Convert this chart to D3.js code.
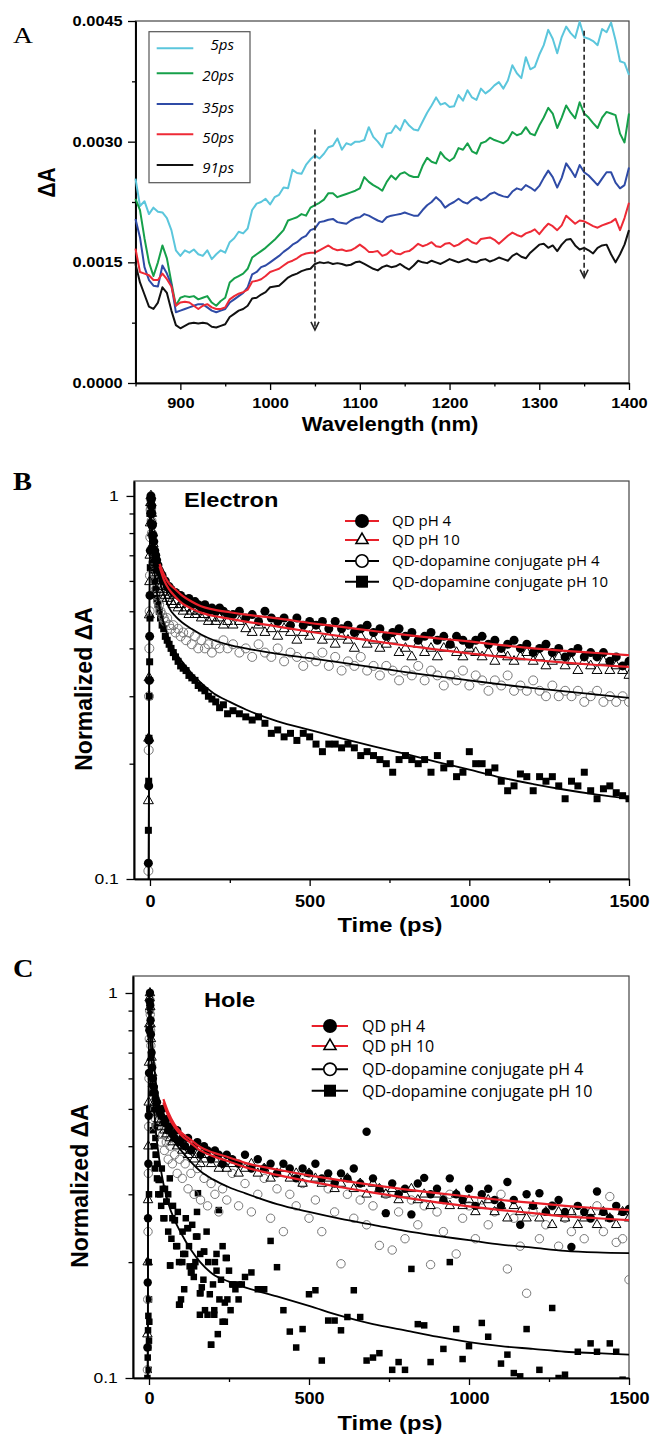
<!DOCTYPE html>
<html><head><meta charset="utf-8">
<script src="https://cdn.jsdelivr.net/npm/d3@7/dist/d3.min.js"></script>
<style>
html,body{margin:0;padding:0;background:#fff;}
svg{display:block;}
</style></head>
<body>
<svg id="fig" width="654" height="1436"></svg>
<script>
// ================= DATA =================
// ---- Panel A : transient absorption spectra (ΔA in units of 1e-4) ----
const wavelengthNm = [
 850,855,860,865,870,875,880,885,890,895,
 900,905,910,915,920,925,930,935,940,945,
 950,955,960,965,970,975,980,985,990,995,
 1000,1005,1010,1015,1020,1025,1030,1035,1040,1045,
 1050,1055,1060,1065,1070,1075,1080,1085,1090,1095,
 1100,1105,1110,1115,1120,1125,1130,1135,1140,1145,
 1150,1155,1160,1165,1170,1175,1180,1185,1190,1195,
 1200,1205,1210,1215,1220,1225,1230,1235,1240,1245,
 1250,1255,1260,1265,1270,1275,1280,1285,1290,1295,
 1300,1305,1310,1315,1320,1325,1330,1335,1340,1345,
 1350,1355,1360,1365,1370,1375,1380,1385,1390,1395,
 1400];
const delayLabels = ["5ps","20ps","35ps","50ps","91ps"];
const dA_5ps = [
 25.4,22.0,22.6,21.0,21.8,21.3,21.2,20.5,19.0,16.5,
 15.8,16.5,16.2,16.6,16.0,15.8,16.5,15.4,16.0,16.5,
 16.2,17.5,18.0,18.8,18.6,19.2,21.5,22.3,22.5,22.9,
 22.2,23.1,23.4,24.3,24.2,26.5,26.1,26.0,27.1,27.8,
 28.3,27.9,28.5,29.3,29.5,30.4,29.0,29.8,29.6,30.0,
 30.0,30.2,31.8,30.6,30.0,29.3,31.0,31.1,32.0,31.4,
 32.7,32.0,31.5,31.4,32.5,33.6,34.5,35.5,34.6,34.8,
 34.3,34.4,35.8,35.1,36.4,35.5,35.2,36.6,36.0,36.4,
 37.0,37.4,36.6,37.6,39.5,38.5,37.9,40.5,39.0,39.3,
 40.8,42.0,43.9,42.8,41.0,43.0,44.3,43.5,42.9,44.9,
 43.0,42.8,42.5,42.0,44.0,43.6,44.8,42.6,40.0,39.8,
 38.3];
const dA_20ps = [
 22.9,21.5,18.0,15.0,13.3,15.0,17.1,15.5,12.5,9.6,
 10.6,10.8,10.7,10.8,10.4,10.6,10.8,10.0,9.6,10.2,
 10.6,12.5,13.0,13.3,13.6,14.2,15.6,16.0,16.4,16.8,
 17.3,17.8,18.4,19.0,20.2,20.4,20.6,21.0,20.8,21.8,
 22.1,22.4,22.8,23.6,23.6,23.1,23.3,23.5,23.7,23.9,
 24.2,25.6,25.0,24.6,24.3,23.9,25.0,25.8,25.3,26.0,
 26.2,25.8,25.6,25.6,27.0,28.0,27.5,27.3,28.7,28.0,
 27.6,28.0,29.2,29.0,29.8,28.8,28.5,29.8,30.0,30.5,
 30.2,30.0,29.8,30.2,31.2,30.8,31.0,31.8,31.0,30.8,
 32.0,33.0,34.2,33.5,31.7,33.0,34.5,33.6,32.9,34.9,
 33.5,33.0,32.3,31.7,33.0,33.7,33.5,33.3,31.0,29.9,
 33.5];
const dA_35ps = [
 20.4,18.1,14.4,12.8,12.1,12.0,14.6,13.6,12.2,8.8,
 9.0,9.2,9.4,9.6,9.8,9.8,9.4,9.0,8.8,9.0,
 9.2,10.0,10.4,10.8,11.2,11.9,13.5,13.8,14.4,14.6,
 15.0,15.4,15.8,16.3,16.7,17.2,17.5,18.0,18.3,19.0,
 19.2,20.0,20.1,20.3,20.4,20.0,19.9,19.8,20.2,20.5,
 20.6,21.0,20.8,20.5,20.2,20.0,20.6,20.8,20.9,21.0,
 21.2,21.0,20.8,20.8,21.5,22.1,22.5,23.1,22.6,21.8,
 22.2,22.5,22.9,22.5,22.3,22.8,23.1,22.7,23.0,23.5,
 23.7,23.4,23.2,23.1,23.8,24.2,24.0,24.6,24.3,23.9,
 24.5,25.5,26.4,25.6,24.3,25.5,27.3,26.5,25.6,27.1,
 26.2,25.8,25.2,24.6,25.4,26.2,26.2,24.9,24.2,24.6,
 26.8];
const dA_50ps = [
 16.7,13.8,13.6,13.4,12.8,12.8,13.6,12.9,12.0,9.6,
 10.0,10.1,10.0,9.6,9.2,9.6,9.8,9.4,9.2,9.2,
 9.4,10.4,10.8,11.1,11.3,11.6,12.6,12.7,12.9,13.3,
 13.8,14.0,14.2,14.6,15.0,15.2,15.5,15.9,16.1,16.2,
 16.2,16.5,16.8,17.1,16.7,16.5,16.6,16.4,16.5,16.8,
 17.2,16.8,16.3,16.3,16.4,15.8,16.0,16.5,16.1,16.0,
 16.3,16.4,16.8,17.3,17.0,17.2,17.5,17.0,16.9,17.3,
 17.4,17.0,17.2,17.6,17.9,17.5,17.3,17.9,18.0,18.1,
 17.8,17.3,17.8,18.3,18.7,18.4,18.2,18.6,18.8,19.1,
 18.5,19.2,19.8,19.5,19.0,19.6,20.8,20.3,19.8,20.2,
 20.1,19.8,19.5,19.3,19.6,19.8,20.0,20.4,19.0,20.5,
 22.4];
const dA_91ps = [
 14.8,12.5,11.0,9.5,9.2,10.0,11.9,11.2,9.0,7.2,
 6.8,7.1,7.4,7.5,7.4,7.5,7.4,7.0,6.9,7.1,
 7.3,8.2,8.6,9.0,9.2,9.6,10.5,10.6,11.0,11.3,
 11.9,12.0,12.1,12.6,13.1,13.4,13.6,13.9,14.1,14.2,
 14.8,15.0,14.9,15.0,14.8,14.9,14.8,14.6,14.7,15.0,
 15.1,14.8,14.5,14.2,14.0,14.4,14.6,14.4,14.5,14.8,
 14.4,14.1,14.6,15.2,15.0,14.9,15.2,15.0,14.8,15.1,
 15.4,15.2,15.0,15.2,15.4,15.1,15.0,15.3,15.4,15.1,
 15.3,15.6,15.4,15.2,15.8,16.1,15.7,15.5,16.2,16.7,
 17.2,17.3,16.8,17.1,16.4,17.2,17.8,17.9,17.1,16.6,
 16.8,16.5,16.1,16.8,17.1,17.2,16.0,15.0,16.0,17.2,
 19.0];
const seriesA = [dA_5ps, dA_20ps, dA_35ps, dA_50ps, dA_91ps];
const xTicksA = [900,1000,1100,1200,1300,1400];
const xMinorA = [850,950,1050,1150,1250,1350];
const yTicksA = [0,0.0015,0.0030,0.0045];
const yMinorA = [0.00075,0.00225,0.00375];
// dashed arrows: [wavelength, ΔA start(1e-4), ΔA end(1e-4)]
const arrowsA = [[1050,31.5,6.6],[1350,43.8,13.1]];

// ---- Panels B & C : normalized kinetics ----
const seriesLabels = ["QD pH 4","QD pH 10","QD-dopamine conjugate pH 4","QD-dopamine conjugate pH 10"];
const timePs = [
 -5,-4,-3,-2,-1,0,1,2,3,4,
 5,6,8,10,12,15,18,21,25,29,
 33,38,43,48,54,60,66,73,80,88,
 96,104,113,122,131,141,151,161,172,183,
 194,206,218,230,243,260,280,300,320,340,
 360,380,400,420,440,460,480,500,520,540,
 560,580,600,620,640,660,680,700,720,740,
 760,780,800,820,840,860,880,900,920,940,
 960,980,1000,1020,1040,1060,1080,1100,1120,1140,
 1160,1180,1200,1220,1240,1260,1280,1300,1320,1340,
 1360,1380,1400,1420,1440,1460,1480,1500];
// Electron (B)
const elecQD4 = [
 0.11,0.175,0.23,0.33,0.43,0.55,0.72,0.9,1.0,0.98,
 0.94,0.9,0.84,0.79,0.76,0.72,0.7,0.68,0.66,0.64,
 0.63,0.62,0.6,0.6,0.58,0.58,0.57,0.56,0.56,0.55,
 0.55,0.54,0.53,0.54,0.52,0.53,0.52,0.51,0.52,0.5,
 0.51,0.5,0.51,0.5,0.49,0.49,0.5,0.48,0.49,0.47,
 0.5,0.48,0.47,0.48,0.46,0.48,0.46,0.47,0.46,0.47,
 0.45,0.47,0.45,0.46,0.44,0.45,0.46,0.44,0.45,0.43,
 0.44,0.45,0.43,0.44,0.42,0.43,0.44,0.42,0.43,0.41,
 0.43,0.42,0.41,0.42,0.43,0.41,0.42,0.4,0.41,0.42,
 0.4,0.41,0.39,0.4,0.41,0.39,0.4,0.38,0.39,0.4,
 0.38,0.39,0.38,0.39,0.37,0.38,0.36,0.37];
const elecQD10 = [
 0.16,0.233,0.335,0.489,0.597,0.7,0.85,0.96,1.0,0.96,
 0.9,0.86,0.8,0.75,0.71,0.68,0.65,0.63,0.61,0.6,
 0.58,0.57,0.56,0.55,0.54,0.55,0.53,0.52,0.53,0.51,
 0.52,0.5,0.51,0.49,0.5,0.49,0.5,0.48,0.49,0.47,
 0.48,0.47,0.48,0.46,0.47,0.46,0.47,0.45,0.44,0.46,
 0.44,0.45,0.43,0.45,0.44,0.42,0.44,0.43,0.45,0.42,
 0.43,0.41,0.43,0.42,0.4,0.43,0.41,0.42,0.4,0.41,
 0.42,0.39,0.4,0.38,0.41,0.39,0.4,0.38,0.4,0.41,
 0.39,0.38,0.4,0.39,0.38,0.39,0.37,0.39,0.38,0.37,
 0.38,0.39,0.37,0.38,0.36,0.37,0.38,0.36,0.37,0.35,
 0.37,0.36,0.35,0.37,0.35,0.36,0.35,0.34];
const elecDopa4 = [
 0.105,0.217,0.3,0.4,0.5,0.62,0.78,0.92,0.98,0.93,
 0.86,0.8,0.73,0.67,0.63,0.6,0.57,0.55,0.53,0.52,
 0.5,0.49,0.48,0.47,0.48,0.46,0.45,0.46,0.44,0.45,
 0.43,0.44,0.42,0.44,0.41,0.43,0.4,0.42,0.4,0.41,
 0.39,0.41,0.4,0.42,0.4,0.41,0.39,0.4,0.38,0.41,
 0.39,0.38,0.4,0.37,0.39,0.38,0.36,0.38,0.37,0.39,
 0.36,0.38,0.35,0.37,0.36,0.38,0.35,0.36,0.34,0.36,
 0.35,0.33,0.35,0.34,0.36,0.33,0.35,0.34,0.32,0.34,
 0.33,0.35,0.32,0.34,0.33,0.31,0.33,0.32,0.34,0.31,
 0.32,0.31,0.33,0.31,0.3,0.32,0.3,0.31,0.3,0.31,
 0.29,0.3,0.31,0.29,0.3,0.29,0.3,0.29];
const elecDopa10 = [
 0.134,0.18,0.233,0.3,0.369,0.48,0.65,0.85,0.97,0.9,
 0.84,0.79,0.73,0.68,0.64,0.6,0.57,0.54,0.52,0.5,
 0.48,0.46,0.45,0.43,0.42,0.41,0.4,0.39,0.38,0.37,
 0.36,0.355,0.35,0.34,0.335,0.33,0.32,0.315,0.31,0.3,
 0.295,0.29,0.28,0.285,0.27,0.275,0.27,0.265,0.26,0.265,
 0.255,0.24,0.245,0.235,0.24,0.23,0.24,0.235,0.225,0.215,
 0.225,0.225,0.22,0.225,0.22,0.21,0.215,0.21,0.205,0.2,
 0.19,0.205,0.21,0.205,0.2,0.205,0.19,0.21,0.195,0.2,
 0.185,0.19,0.215,0.2,0.2,0.19,0.195,0.18,0.17,0.175,
 0.188,0.185,0.17,0.185,0.18,0.185,0.175,0.162,0.18,0.175,
 0.19,0.17,0.162,0.172,0.175,0.168,0.165,0.162];
// Hole (C)
const holeQD4 = [
 0.12,0.177,0.26,0.36,0.48,0.62,0.8,0.95,1.0,0.93,
 0.85,0.78,0.7,0.64,0.6,0.57,0.55,0.53,0.52,0.5,
 0.49,0.48,0.5,0.46,0.47,0.44,0.45,0.43,0.42,0.44,
 0.41,0.42,0.4,0.42,0.39,0.4,0.41,0.38,0.4,0.39,
 0.37,0.39,0.38,0.36,0.38,0.37,0.36,0.38,0.35,0.37,
 0.35,0.36,0.34,0.36,0.35,0.33,0.35,0.34,0.36,0.33,
 0.34,0.32,0.34,0.33,0.35,0.32,0.436,0.33,0.31,0.268,
 0.32,0.3,0.31,0.266,0.32,0.331,0.3,0.31,0.29,0.33,
 0.3,0.29,0.31,0.28,0.3,0.31,0.29,0.28,0.323,0.29,
 0.25,0.3,0.28,0.302,0.27,0.28,0.29,0.27,0.219,0.28,
 0.27,0.26,0.305,0.27,0.26,0.28,0.27,0.275];
const holeQD10 = [
 0.13,0.2,0.29,0.4,0.52,0.66,0.83,0.97,1.0,0.92,
 0.83,0.76,0.68,0.62,0.58,0.55,0.52,0.5,0.49,0.47,
 0.46,0.45,0.46,0.44,0.43,0.44,0.42,0.41,0.42,0.4,
 0.41,0.39,0.4,0.38,0.39,0.37,0.38,0.36,0.37,0.38,
 0.36,0.37,0.35,0.36,0.35,0.36,0.34,0.35,0.36,0.34,
 0.35,0.33,0.34,0.35,0.33,0.34,0.32,0.34,0.33,0.32,
 0.33,0.31,0.32,0.33,0.31,0.32,0.3,0.32,0.31,0.3,
 0.31,0.29,0.3,0.31,0.29,0.3,0.28,0.3,0.29,0.28,
 0.3,0.28,0.29,0.27,0.28,0.29,0.27,0.28,0.26,0.28,
 0.27,0.26,0.28,0.26,0.27,0.25,0.27,0.26,0.27,0.25,
 0.26,0.27,0.25,0.27,0.26,0.25,0.27,0.26];
const holeDopa4 = [
 0.105,0.16,0.24,0.34,0.45,0.6,0.76,0.9,0.96,0.88,
 0.8,0.73,0.65,0.6,0.55,0.52,0.5,0.47,0.45,0.46,
 0.43,0.41,0.43,0.39,0.41,0.37,0.4,0.36,0.38,0.34,
 0.37,0.33,0.36,0.31,0.34,0.3,0.35,0.29,0.33,0.28,
 0.32,0.3,0.27,0.31,0.29,0.34,0.28,0.32,0.27,0.3,
 0.33,0.26,0.31,0.24,0.3,0.28,0.32,0.26,0.29,0.24,
 0.31,0.27,0.198,0.3,0.26,0.29,0.25,0.28,0.221,0.3,
 0.215,0.27,0.23,0.29,0.25,0.28,0.197,0.27,0.24,0.3,
 0.21,0.26,0.28,0.23,0.29,0.25,0.27,0.3,0.192,0.26,
 0.22,0.166,0.27,0.23,0.25,0.28,0.22,0.26,0.24,0.27,
 0.23,0.26,0.28,0.24,0.296,0.225,0.23,0.18];
const holeDopa10 = [
 0.1,0.113,0.133,0.145,0.2,0.3,0.5,0.8,1.0,0.9,
 0.78,0.68,0.58,0.5,0.44,0.4,0.35,0.38,0.33,0.3,
 0.327,0.28,0.31,0.26,0.287,0.24,0.196,0.26,0.257,0.22,
 0.155,0.2,0.21,0.245,0.188,0.195,0.233,0.166,0.213,0.146,
 0.122,0.2,0.273,0.14,0.205,0.175,0.175,0.183,0.188,0.17,
 0.17,0.227,0.194,0.15,0.132,0.12,0.134,0.165,0.169,0.111,
 0.141,0.141,0.133,0.144,0.169,0.144,0.111,0.113,0.116,0.098,
 0.105,0.11,0.105,0.192,0.138,0.137,0.11,0.098,0.119,0.2,
 0.134,0.112,0.121,0.095,0.139,0.128,0.097,0.109,0.115,0.103,
 0.101,0.134,0.096,0.105,0.098,0.152,0.1,0.102,0.096,0.117,
 0.094,0.123,0.117,0.097,0.123,0.117,0.099,0.096];
// additional replicate points of the QD-dopamine pH 10 hole trace (dense early cloud)
const holeDopa10ExtraT = [-2,-1,0,0,1,8,10,12,15,18,20,22,25,30,35,40,45,50,55,60,65,66,70,75,81,85,90,94,94,100,105,107,110,115,120,125,127,133,135,140,145,147,150,153,159,159,160,165,170,172,175,180,185,190,194,200,204,204,211,211,215,220,225,230,237,237,240,245,250,255,263,270,280,290];
const holeDopa10ExtraV = [0.12,0.105,0.125,0.16,0.14,0.7,0.55,0.6,0.5,0.45,0.42,0.38,0.36,0.327,0.3,0.35,0.26,0.31,0.287,0.3,0.33,0.196,0.23,0.28,0.257,0.22,0.27,0.2,0.155,0.16,0.24,0.21,0.17,0.26,0.245,0.22,0.195,0.188,0.25,0.183,0.2,0.233,0.27,0.302,0.166,0.146,0.21,0.172,0.18,0.213,0.15,0.24,0.2,0.165,0.122,0.175,0.15,0.146,0.21,0.19,0.13,0.16,0.18,0.22,0.14,0.157,0.205,0.16,0.19,0.15,0.175,0.17,0.16,0.175];
// fitted curves
const fitTimePs = [-4,0,3,10,20,30,45,60,80,100,130,160,200,250,300,400,500,600,700,800,900,1000,1100,1200,1300,1400,1500];
const fitElecQD4   = [null,null,null,null,null,0.665,0.62,0.59,0.57,0.55,0.53,0.515,0.505,0.497,0.49,0.479,0.466,0.455,0.444,0.434,0.425,0.417,0.408,0.4,0.394,0.389,0.384];
const fitElecQD10  = [null,null,null,null,null,0.655,0.6,0.57,0.545,0.525,0.508,0.496,0.486,0.478,0.47,0.456,0.442,0.43,0.418,0.407,0.397,0.388,0.38,0.373,0.367,0.362,0.358];
const fitElecDopa4 = [0.1,1.0,0.92,0.75,0.66,0.6,0.55,0.51,0.485,0.468,0.45,0.435,0.42,0.408,0.4,0.387,0.377,0.367,0.357,0.347,0.338,0.33,0.322,0.315,0.309,0.303,0.297];
const fitElecDopa10= [0.1,1.0,0.9,0.7,0.57,0.51,0.46,0.42,0.39,0.37,0.345,0.325,0.305,0.29,0.277,0.258,0.245,0.233,0.222,0.212,0.202,0.193,0.184,0.177,0.171,0.166,0.162];
const fitHoleQD4   = [null,null,null,null,null,null,0.53,0.49,0.455,0.435,0.416,0.398,0.385,0.374,0.362,0.348,0.336,0.326,0.317,0.309,0.302,0.296,0.29,0.285,0.28,0.276,0.273];
const fitHoleQD10  = [null,null,null,null,null,null,0.52,0.48,0.448,0.428,0.408,0.39,0.377,0.365,0.353,0.337,0.324,0.313,0.303,0.294,0.286,0.279,0.273,0.268,0.263,0.26,0.257];
const fitHoleDopa4 = [0.1,1.0,0.95,0.75,0.6,0.52,0.47,0.44,0.41,0.39,0.365,0.345,0.328,0.313,0.302,0.283,0.27,0.259,0.25,0.241,0.234,0.228,0.222,0.218,0.214,0.212,0.211];
const fitHoleDopa10= [0.1,1.0,0.85,0.6,0.45,0.38,0.32,0.285,0.257,0.238,0.216,0.2,0.186,0.178,0.172,0.163,0.154,0.145,0.138,0.133,0.128,0.124,0.121,0.119,0.117,0.116,0.115];
const xTicksT = [0,500,1000,1500];
const xMinorT = [250,750,1250];
const yTicksLog = [0.1,1];
const yMinorLog = [0.2,0.3,0.4,0.5,0.6,0.7,0.8,0.9];

// ================= DRAWING =================
const svg = d3.select('#fig');
const SANS = "'Liberation Sans', Arial, Helvetica, sans-serif";
const LEG = "'Open Sans', 'Noto Sans', sans-serif";
const SERIF = "'Liberation Serif', 'Times New Roman', serif";
const SX = 1.13;

function addText(g, x, y, str, o) {
  return g.append('text')
    .attr('transform', `translate(${x},${y}) scale(${o.sx||1},1)` + (o.rotate ? ` rotate(${o.rotate})` : ''))
    .attr('text-anchor', o.anchor || 'start')
    .attr('font-family', o.family || SANS)
    .attr('font-size', o.size)
    .attr('font-weight', o.weight || 'normal')
    .attr('font-style', o.style || 'normal')
    .attr('fill', '#000')
    .text(str);
}
function styleAxis(g, o) {
  g.select('.domain').attr('stroke', '#000').attr('stroke-width', 1.6);
  g.selectAll('.tick line').attr('stroke', '#000').attr('stroke-width', 1.3);
  g.selectAll('.tick text')
    .attr('font-family', SANS).attr('font-size', o.size)
    .attr('font-weight', o.weight || 'normal').attr('fill', '#000')
    .attr('transform', `scale(${o.sx || 1},1)`);
}

// ---------- Panel A ----------
(function(){
  const P = {l:135.5, r:629, t:21, b:383};
  const x = d3.scaleLinear().domain([850,1400]).range([P.l,P.r]);
  const y = d3.scaleLinear().domain([0,0.0045]).range([P.b,P.t]);
  const g = svg.append('g');
  g.append('rect').attr('x',P.l).attr('y',P.t).attr('width',P.r-P.l).attr('height',P.b-P.t)
    .attr('fill','none').attr('stroke','#444').attr('stroke-width',1.2);

  const gxm = g.append('g').attr('transform',`translate(0,${P.b})`)
    .call(d3.axisBottom(x).tickValues(xMinorA).tickSizeInner(3.5).tickSizeOuter(0).tickFormat(''));
  styleAxis(gxm,{size:14});
  const gx = g.append('g').attr('transform',`translate(0,${P.b})`)
    .call(d3.axisBottom(x).tickValues(xTicksA).tickSizeInner(7).tickSizeOuter(0).tickPadding(8).tickFormat(d3.format('d')));
  styleAxis(gx,{size:14.5, weight:'bold', sx:SX});
  const gym = g.append('g').attr('transform',`translate(${P.l},0)`)
    .call(d3.axisLeft(y).tickValues(yMinorA).tickSizeInner(3.5).tickSizeOuter(0).tickFormat(''));
  styleAxis(gym,{size:14});
  const gy = g.append('g').attr('transform',`translate(${P.l},0)`)
    .call(d3.axisLeft(y).tickValues(yTicksA).tickSizeInner(7.5).tickSizeOuter(0).tickPadding(3.8).tickFormat(d => d.toFixed(4)));
  styleAxis(gy,{size:14.5, weight:'bold', sx:SX});

  const colors = ['#5bc6dc','#16a04a','#2f4ba6','#ee2a36','#111111'];
  const line = d3.line().x((d,i) => x(wavelengthNm[i])).y(d => y(d*1e-4));
  seriesA.forEach((s,k) => {
    g.append('path').attr('d', line(s)).attr('fill','none')
      .attr('stroke', colors[k]).attr('stroke-width', 2).attr('stroke-linejoin','round');
  });

  arrowsA.forEach(a => {
    const ax = x(a[0]), y0 = y(a[1]*1e-4), y1 = y(a[2]*1e-4);
    g.append('line').attr('x1',ax).attr('x2',ax).attr('y1',y0).attr('y2',y1)
      .attr('stroke','#222').attr('stroke-width',1.6).attr('stroke-dasharray','5,3');
    g.append('path').attr('d',`M${ax-4},${y1-8}L${ax},${y1}L${ax+4},${y1-8}`)
      .attr('fill','none').attr('stroke','#222').attr('stroke-width',1.6);
  });

  g.append('rect').attr('x',149).attr('y',31.7).attr('width',101).attr('height',151)
    .attr('fill','#fff').attr('stroke','#555').attr('stroke-width',1.2);
  const lineY = [48.3,73.3,104,134.3,165];
  const textY = [50,80.7,113.3,142.7,173.3];
  delayLabels.forEach((lab,k) => {
    g.append('line').attr('x1',156.7).attr('x2',193.3).attr('y1',lineY[k]).attr('y2',lineY[k])
      .attr('stroke',colors[k]).attr('stroke-width',2);
    addText(g, 234, textY[k], lab, {size:15, family:LEG, style:'italic', anchor:'end'});
  });

  addText(g, 390, 431, 'Wavelength (nm)', {size:19.5, weight:'bold', anchor:'middle', sx:SX});
  addText(g, 55, 182.5, 'ΔA', {size:21, weight:'bold', anchor:'middle', rotate:-90, sx:SX});
  addText(g, 13, 43, 'A', {size:24, family:SERIF, sx:1.15});
})();

// ---------- Panels B & C ----------
function decayPanel(cfg) {
  const P = cfg.box;
  const x = d3.scaleLinear().domain([-50,1500]).range([P.l,P.r]);
  const y = d3.scaleLog().domain([0.1, cfg.yMax]).range([P.b,P.t]);
  const g = svg.append('g');
  const clipId = cfg.id + '-clip';
  g.append('clipPath').attr('id',clipId).append('rect')
    .attr('x',P.l).attr('y',P.t-2).attr('width',P.r-P.l).attr('height',P.b-P.t+2);
  g.append('rect').attr('x',P.l).attr('y',P.t).attr('width',P.r-P.l).attr('height',P.b-P.t)
    .attr('fill','none').attr('stroke','#444').attr('stroke-width',1.2);

  const gxm = g.append('g').attr('transform',`translate(0,${P.b})`)
    .call(d3.axisBottom(x).tickValues(xMinorT).tickSizeInner(4).tickSizeOuter(0).tickFormat(''));
  styleAxis(gxm,{size:14});
  const gx = g.append('g').attr('transform',`translate(0,${P.b})`)
    .call(d3.axisBottom(x).tickValues(xTicksT).tickSizeInner(7).tickSizeOuter(0).tickPadding(cfg.xPad).tickFormat(d3.format('d')));
  styleAxis(gx,{size:16, weight:'bold', sx:SX});
  const gym = g.append('g').attr('transform',`translate(${P.l},0)`)
    .call(d3.axisLeft(y).tickValues(yMinorLog).tickSizeInner(4.5).tickSizeOuter(0).tickFormat(''));
  styleAxis(gym,{size:14});
  const gy = g.append('g').attr('transform',`translate(${P.l},0)`)
    .call(d3.axisLeft(y).tickValues(yTicksLog).tickSizeInner(7.5).tickSizeOuter(0).tickPadding(6).tickFormat(d => d === 1 ? '1' : '0.1'));
  styleAxis(gy,{size:15.5, sx:SX});

  const plot = g.append('g').attr('clip-path',`url(#${clipId})`);
  const ms = cfg.marker;
  const sym = {
    fcircle: d3.symbol().type(d3.symbolCircle).size(Math.PI*ms.r*ms.r),
    ocircle: d3.symbol().type(d3.symbolCircle).size(Math.PI*ms.r*ms.r),
    tri: d3.symbol().type(d3.symbolTriangle).size(ms.tri*ms.tri*Math.sqrt(3)/4),
    sq: d3.symbol().type(d3.symbolSquare).size(ms.sq*ms.sq)
  };
  function scatter(times, vals, kind) {
    const pts = vals.map((v,i) => [times[i], v]).filter(d => d[1] != null);
    const s = plot.append('g').selectAll('path').data(pts).join('path')
      .attr('transform', d => `translate(${x(d[0])},${y(d[1])})`)
      .attr('d', sym[kind]());
    if (kind === 'fcircle' || kind === 'sq') s.attr('fill','#000').attr('stroke','none');
    if (kind === 'tri') s.attr('fill','none').attr('stroke','#000').attr('stroke-width',1);
    if (kind === 'ocircle') s.attr('fill','none').attr('stroke','#777').attr('stroke-width',1);
  }
  scatter(timePs, cfg.data[3], 'sq');
  if (cfg.extraSq) scatter(cfg.extraSq[0], cfg.extraSq[1], 'sq');
  scatter(timePs, cfg.data[2], 'ocircle');
  scatter(timePs, cfg.data[1], 'tri');
  scatter(timePs, cfg.data[0], 'fcircle');

  const fline = d3.line().defined(d => d != null).curve(d3.curveMonotoneX)
    .x((d,i) => x(fitTimePs[i])).y(d => y(d));
  const fitColors = ['#e8202a','#e8202a','#000','#000'];
  [3,2,1,0].forEach(k => {
    plot.append('path').attr('d', fline(cfg.fits[k])).attr('fill','none')
      .attr('stroke', fitColors[k]).attr('stroke-width', k < 2 ? 2.2 : 1.8);
  });

  const L = cfg.legend;
  const kinds = ['fcircle','tri','ocircle','sq'];
  const legSym = {
    fcircle: d3.symbol().type(d3.symbolCircle).size(Math.PI*L.r*L.r),
    tri: d3.symbol().type(d3.symbolTriangle).size(L.tri*L.tri*Math.sqrt(3)/4),
    ocircle: d3.symbol().type(d3.symbolCircle).size(Math.PI*(L.r-0.8)*(L.r-0.8)),
    sq: d3.symbol().type(d3.symbolSquare).size(L.sq*L.sq)
  };
  seriesLabels.forEach((lab,k) => {
    const yy = L.rows[k];
    g.append('line').attr('x1',L.x1).attr('x2',L.x2).attr('y1',yy).attr('y2',yy)
      .attr('stroke', fitColors[k]).attr('stroke-width',2);
    const m = g.append('path').attr('transform',`translate(${L.mx},${yy})`).attr('d', legSym[kinds[k]]());
    if (k === 0 || k === 3) m.attr('fill','#000');
    else m.attr('fill','#fff').attr('stroke','#000').attr('stroke-width',1.6);
    addText(g, L.tx, yy + L.dy, lab, {size:L.size, family:LEG});
  });

  addText(g, cfg.title[0], cfg.title[1], cfg.titleText, {size:20, weight:'bold', sx:1.18});
  addText(g, 390, cfg.xLabY, 'Time (ps)', {size:21, weight:'bold', anchor:'middle', sx:SX});
  addText(g, cfg.yLab[0], cfg.yLab[1], 'Normalized ΔA', {size:23, weight:'bold', anchor:'middle', rotate:-90, sx:1.05});
  addText(g, 13, cfg.panelY, cfg.panel, {size:25, weight:'bold', family:SERIF, sx:1.14});
}

decayPanel({
  id:'B', panel:'B', panelY:490,
  box:{l:134, r:629, t:481, b:879}, yMax:1.094, xPad:10,
  data:[elecQD4, elecQD10, elecDopa4, elecDopa10],
  fits:[fitElecQD4, fitElecQD10, fitElecDopa4, fitElecDopa10],
  marker:{r:4.5, tri:10, sq:7},
  legend:{rows:[521,540,561,581.7], x1:345, x2:379, mx:362, tx:392, dy:5, size:15, r:7, tri:12, sq:12},
  titleText:'Electron', title:[184,506.7],
  xLabY:932, yLab:[91.5,689]
});
decayPanel({
  id:'C', panel:'C', panelY:977,
  box:{l:133, r:629, t:976, b:1378}, yMax:1.107, xPad:8,
  data:[holeQD4, holeQD10, holeDopa4, holeDopa10],
  extraSq:[holeDopa10ExtraT, holeDopa10ExtraV],
  fits:[fitHoleQD4, fitHoleQD10, fitHoleDopa4, fitHoleDopa10],
  marker:{r:4.2, tri:9.5, sq:6.5},
  legend:{rows:[1026,1046,1069.3,1090.7], x1:311.7, x2:348, mx:330, tx:362, dy:6, size:16, r:7, tri:12, sq:12},
  titleText:'Hole', title:[204,1006.7],
  xLabY:1430, yLab:[88,1186]
});
</script>
</body></html>
